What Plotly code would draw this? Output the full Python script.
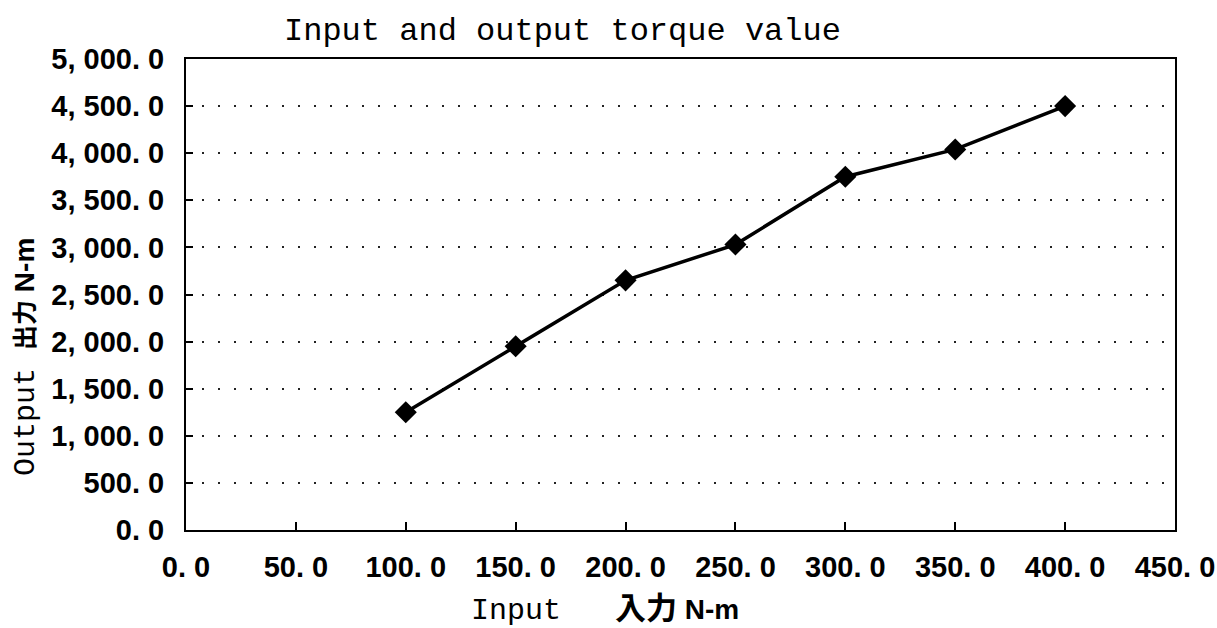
import plotly.graph_objects as go

# Data
input_nm = [100, 150, 200, 250, 300, 350, 400]
output_nm = [1250, 1950, 2650, 3030, 3750, 4040, 4500]

x_tickvals = [0, 50, 100, 150, 200, 250, 300, 350, 400, 450]
x_ticktext = ["0. 0", "50. 0", "100. 0", "150. 0", "200. 0", "250. 0",
              "300. 0", "350. 0", "400. 0", "450. 0"]
y_tickvals = [0, 500, 1000, 1500, 2000, 2500, 3000, 3500, 4000, 4500, 5000]
y_ticktext = ["0. 0", "500. 0", "1, 000. 0", "1, 500. 0", "2, 000. 0", "2, 500. 0",
              "3, 000. 0", "3, 500. 0", "4, 000. 0", "4, 500. 0", "5, 000. 0"]

title_text = "Input and output torque value"
x_label_en, x_label_ja, unit = "Input", "入力", "N-m"
y_label_en, y_label_ja = "Output", "出力"

mono = "Liberation Mono, Courier New, monospace"
sans = "Liberation Sans, Arial, sans-serif"
cjk = "Noto Sans CJK JP"

L, R, T, B = 186, 42, 59, 98
W, H = 1217, 628
pw, ph = W - L - R, H - T - B


def px_x(px):
    return (px - L) / pw


def px_y(py):
    return (H - B - py) / ph


fig = go.Figure()
fig.add_trace(go.Scatter(
    x=input_nm, y=output_nm, mode="lines+markers",
    line=dict(color="black", width=3.5),
    marker=dict(symbol="diamond", size=17, color="black"),
    showlegend=False,
))

tickfont = dict(family=sans, size=29, color="black", weight="bold")

fig.update_layout(
    width=W, height=H,
    paper_bgcolor="white", plot_bgcolor="white",
    margin=dict(l=L, r=R, t=T, b=B, autoexpand=False),
    xaxis=dict(
        range=[0, 450], tickvals=x_tickvals, ticktext=x_ticktext,
        showgrid=False, zeroline=False,
        showline=True, linecolor="black", linewidth=2, mirror=True,
        ticks="inside", ticklen=8, tickcolor="black", tickwidth=2,
        tickfont=tickfont, ticklabelstandoff=10, automargin=False,
        ticklabeloverflow="allow",
    ),
    yaxis=dict(
        range=[0, 5000], tickvals=y_tickvals, ticktext=y_ticktext,
        showgrid=True, gridcolor="#222222", gridwidth=1.5, griddash="2px,14px",
        zeroline=False,
        showline=True, linecolor="black", linewidth=2, mirror=True,
        ticks="inside", ticklen=7, tickcolor="black", tickwidth=2,
        tickfont=tickfont, ticklabelstandoff=14, automargin=False,
        ticklabeloverflow="allow",
    ),
)

# Chart title
fig.add_annotation(
    text=title_text, xref="paper", yref="paper",
    x=px_x(562), y=px_y(31), xanchor="center", yanchor="middle",
    showarrow=False, font=dict(family=mono, size=32, color="black"),
)

# X axis title
fig.add_annotation(
    text=(f"<span style='font-family:Liberation Mono'>{x_label_en}</span>"
          f"&nbsp;&nbsp;&nbsp;"
          f"<b><span style='font-family:{cjk};font-size:31px'>{x_label_ja}</span>"
          f"<span style='font-family:Liberation Sans;font-size:28px'> {unit}</span></b>"),
    xref="paper", yref="paper",
    x=px_x(605), y=px_y(605), xanchor="center", yanchor="middle",
    showarrow=False, font=dict(family=mono, size=30, color="black"),
)

# Y axis title
fig.add_annotation(
    text=(f"<span style='font-family:Liberation Mono'>{y_label_en}</span> "
          f"<b><span style='font-family:{cjk};font-size:25px'>{y_label_ja}</span>"
          f"<span style='font-family:Liberation Sans;font-size:28px'> {unit}</span></b>"),
    xref="paper", yref="paper", textangle=-90,
    x=px_x(24), y=px_y(357), xanchor="center", yanchor="middle",
    showarrow=False, font=dict(family=mono, size=30, color="black"),
)

fig.write_html("out.html", config={"displayModeBar": False},
               post_script="document.body.style.margin='0';")
